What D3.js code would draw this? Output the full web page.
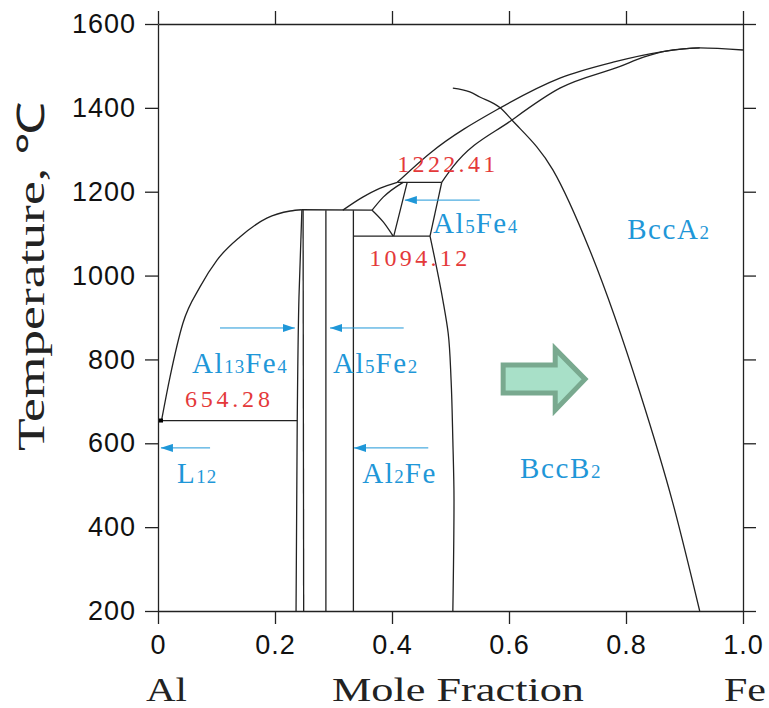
<!DOCTYPE html>
<html>
<head>
<meta charset="utf-8">
<script src="https://cdn.jsdelivr.net/npm/d3@7"></script>
<style>
  html, body { margin: 0; padding: 0; background: #fff; }
  svg { display: block; }
</style>
</head>
<body>
<svg id="chart" width="769" height="708"></svg>
<script>
// Al–Fe binary phase diagram: temperature (°C) vs mole fraction Fe

// ---- axis ticks ----
const xTicks = [0, 0.2, 0.4, 0.6, 0.8, 1.0];
const xTickLabels = ["0", "0.2", "0.4", "0.6", "0.8", "1.0"];
const yTicks = [200, 400, 600, 800, 1000, 1200, 1400, 1600];

// ---- invariant temperatures ----
const invariantTemps = [654.28, 1094.12, 1222.41];

// ---- phase boundaries, [mole fraction Fe, temperature °C] ----
const liquidusAlSide = [[0.006, 654.28], [0.0205, 758], [0.0427, 887], [0.0718, 973], [0.1009, 1037], [0.140, 1092], [0.186, 1137], [0.226, 1154], [0.246, 1157]];
const al13fe4Left = [[0.236, 200], [0.238, 654.28], [0.241, 950], [0.246, 1157]];
const al13fe4Right = [[0.249, 200], [0.248, 1157]];
const al5fe2Line = [[0.287, 200], [0.287, 1156]];
const al2feLine = [[0.334, 200], [0.334, 1156]];
const plateau1156 = [[0.246, 1157], [0.366, 1156]];
const liquidusMid = [[0.316, 1156], [0.350, 1187], [0.379, 1208], [0.409, 1222.41]];
const liquidusFeSide = [[0.409, 1222.41], [0.465, 1292], [0.585, 1400], [0.687, 1471], [0.778, 1509], [0.858, 1533], [0.926, 1543], [1.0, 1538]];
const solidusFeSide = [[0.485, 1222.41], [0.504, 1259], [0.605, 1371], [0.687, 1447], [0.79, 1499], [0.83, 1521], [0.87, 1536], [0.926, 1543]];
const cuspUpper = [[0.366, 1156], [0.385, 1187], [0.419, 1222.41]];
const cuspLower = [[0.366, 1156], [0.385, 1128], [0.402, 1094.12]];
const al5fe4Left = [[0.426, 1222.41], [0.403, 1094.12]];
const al5fe4Right = [[0.485, 1222.41], [0.465, 1094.12]];
const b2Boundary = [[0.465, 1094.12], [0.487, 941], [0.496, 863], [0.501, 751], [0.504, 607], [0.506, 465], [0.504, 200]];
const orderDisorder = [[0.504, 1447], [0.533, 1438], [0.550, 1426], [0.585, 1400], [0.605, 1371], [0.675, 1252], [0.738, 1061], [0.824, 720], [0.880, 458], [0.926, 200]];
const eutectic654 = [[0, 654.28], [0.238, 654.28]];
const peritectic1094 = [[0.334, 1094.12], [0.465, 1094.12]];
const peritectic1222 = [[0.409, 1222.41], [0.485, 1222.41]];

// ---- phase labels: [text, is subscript] parts, start x, baseline T ----
const phaseLabels = [
  { parts: [["Al", 0], ["13", 1], ["Fe", 0], ["4", 1]], x: 0.058, t: 768 },
  { parts: [["Al", 0], ["5", 1], ["Fe", 0], ["2", 1]], x: 0.299, t: 768 },
  { parts: [["L", 0], ["12", 1]], x: 0.0325, t: 505 },
  { parts: [["Al", 0], ["2", 1], ["Fe", 0]], x: 0.349, t: 505 },
  { parts: [["Al", 0], ["5", 1], ["Fe", 0], ["4", 1]], x: 0.470, t: 1101 },
  { parts: [["Bcc", 0], ["A", 0], ["2", 1]], x: 0.802, t: 1087 },
  { parts: [["Bcc", 0], ["B", 0], ["2", 1]], x: 0.619, t: 517 }
];

// temperature value labels: start x, baseline T
const tempLabelX = [0.046, 0.361, 0.409];
const tempLabelT = [687, 1023, 1247];

// pointer arrows: from [x, T] to [x, T]
const pointers = [
  [[0.550, 1180], [0.422, 1180]],
  [[0.106, 875], [0.234, 875]],
  [[0.420, 875], [0.294, 875]],
  [[0.089, 589], [0.005, 589]],
  [[0.462, 589], [0.335, 589]]
];

// block arrow outline in [x, T]
const blockArrow = [[0.590, 787], [0.679, 787], [0.679, 825], [0.730, 753], [0.679, 679], [0.679, 720], [0.590, 720]];

// ---- drawing ----
const svg = d3.select("#chart");
const x = d3.scaleLinear().domain([0, 1]).range([158, 743]);
const y = d3.scaleLinear().domain([200, 1600]).range([611, 24]);

const BLUE = "#1f97d8";
const RED = "#e4393a";
const INK = "#222";

const tickFont = "'Liberation Sans', Arial, Helvetica, sans-serif";
const serif = "'Liberation Serif', 'Times New Roman', serif";

function styleAxis(g) {
  g.selectAll("path.domain").attr("stroke", INK).attr("stroke-width", 1.3);
  g.selectAll(".tick line").attr("stroke", INK).attr("stroke-width", 1.3);
  g.selectAll(".tick text").attr("fill", "#111").attr("font-family", tickFont).attr("font-size", 27).attr("letter-spacing", 1);
}

svg.append("g").attr("transform", `translate(0,${y(200)})`)
  .call(d3.axisBottom(x).tickValues(xTicks).tickSize(13).tickSizeOuter(0).tickPadding(11)
    .tickFormat((d, i) => xTickLabels[i]))
  .call(styleAxis);
svg.append("g").attr("transform", `translate(0,${y(1600)})`)
  .call(d3.axisTop(x).tickValues(xTicks).tickSize(13).tickSizeOuter(0).tickFormat(""))
  .call(styleAxis);
svg.append("g").attr("transform", `translate(${x(0)},0)`)
  .call(d3.axisLeft(y).tickValues(yTicks).tickSize(13).tickSizeOuter(0).tickPadding(9).tickFormat(d3.format("d")))
  .call(styleAxis);
svg.append("g").attr("transform", `translate(${x(1)},0)`)
  .call(d3.axisRight(y).tickValues(yTicks).tickSize(13).tickSizeOuter(0).tickFormat(""))
  .call(styleAxis);

// boundaries: curves running left→right use monotoneX, the B2 edge runs top→bottom
const lineX = d3.line().x(d => x(d[0])).y(d => y(d[1])).curve(d3.curveMonotoneX);
const lineY = d3.line().x(d => x(d[0])).y(d => y(d[1])).curve(d3.curveMonotoneY);
const curvesX = [liquidusAlSide, plateau1156, liquidusMid, liquidusFeSide, solidusFeSide,
  cuspUpper, cuspLower, orderDisorder, eutectic654, peritectic1094, peritectic1222];
const curvesY = [al13fe4Left, al13fe4Right, al5fe2Line, al2feLine, al5fe4Left, al5fe4Right, b2Boundary];
const bounds = svg.append("g").attr("fill", "none").attr("stroke", INK).attr("stroke-width", 1.3);
bounds.selectAll("path.cx").data(curvesX).join("path").attr("class", "cx").attr("d", lineX);
bounds.selectAll("path.cy").data(curvesY).join("path").attr("class", "cy").attr("d", lineY);

// small marker at the Al-side eutectic end
svg.append("rect").attr("x", x(0) + 1).attr("y", y(654.28) - 2).attr("width", 4).attr("height", 4).attr("fill", "#000");

// pointer arrows
const defs = svg.append("defs");
defs.append("marker").attr("id", "head").attr("viewBox", "0 0 12 8").attr("refX", 12).attr("refY", 4)
  .attr("markerUnits", "userSpaceOnUse").attr("markerWidth", 12).attr("markerHeight", 8).attr("orient", "auto")
  .append("path").attr("d", "M0,0 L12,4 L0,8 Z").attr("fill", BLUE);
svg.append("g").selectAll("line").data(pointers).join("line")
  .attr("x1", d => x(d[0][0])).attr("y1", d => y(d[0][1]))
  .attr("x2", d => x(d[1][0])).attr("y2", d => y(d[1][1]))
  .attr("stroke", BLUE).attr("stroke-width", 1).attr("marker-end", "url(#head)");

// phase labels with subscripts
const lbl = svg.append("g").attr("font-family", serif).attr("fill", BLUE);
phaseLabels.forEach(p => {
  const t = lbl.append("text").attr("x", x(p.x)).attr("y", y(p.t));
  p.parts.forEach(([s, sub]) => {
    t.append("tspan").attr("font-size", sub ? 19 : 29).attr("letter-spacing", sub ? 1 : 1.6).text(s);
  });
});

// invariant temperature labels
svg.append("g").selectAll("text").data(invariantTemps).join("text")
  .attr("x", (d, i) => x(tempLabelX[i])).attr("y", (d, i) => y(tempLabelT[i]))
  .attr("font-family", serif).attr("font-size", 24).attr("fill", RED)
  .attr("textLength", (d, i) => d.toFixed(2).length === 6 ? 85 : 98).attr("lengthAdjust", "spacing")
  .text(d => d.toFixed(2));

// block arrow
svg.append("path")
  .attr("d", d3.line().x(d => x(d[0])).y(d => y(d[1]))(blockArrow) + "Z")
  .attr("fill", "#a8e0c8").attr("stroke", "#79a98f").attr("stroke-width", 5).attr("stroke-linejoin", "miter");

// axis titles
svg.append("text").attr("transform", "translate(44,276) rotate(-90)")
  .attr("text-anchor", "middle").attr("font-family", serif).attr("font-size", 38).attr("fill", "#222")
  .attr("textLength", 350).attr("lengthAdjust", "spacingAndGlyphs")
  .text("Temperature, ℃");
const bottomTitles = [["Al", 146, 41], ["Mole Fraction", 332, 252], ["Fe", 724, 42]];
svg.append("g").selectAll("text").data(bottomTitles).join("text")
  .attr("x", d => d[1]).attr("y", 701).attr("font-family", serif).attr("font-size", 33).attr("fill", "#222")
  .attr("textLength", d => d[2]).attr("lengthAdjust", "spacingAndGlyphs").text(d => d[0]);
</script>
</body>
</html>
